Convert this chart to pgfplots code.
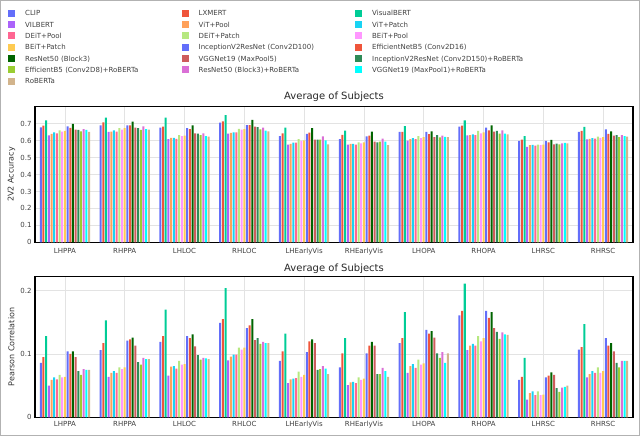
\documentclass[border=0pt]{standalone}
\usepackage{fontspec}
\setmainfont{DejaVu Sans}
\usepackage{pgfplots}
\usepackage{pgfplotstable}
\pgfplotsset{compat=1.18}

% 2V2 accuracy, one row per region, one column per model
\pgfplotstableread{
x m1 m2 m3 m4 m5 m6 m7 m8 m9 m10 m11 m12 m13 m14 m15 m16 m17 m18 m19
0 0.678 0.688 0.720 0.631 0.639 0.649 0.643 0.661 0.653 0.657 0.684 0.675 0.698 0.665 0.663 0.655 0.667 0.663 0.651
1 0.690 0.708 0.735 0.651 0.653 0.661 0.653 0.673 0.665 0.673 0.690 0.690 0.712 0.676 0.673 0.663 0.684 0.667 0.665
2 0.676 0.682 0.735 0.608 0.616 0.616 0.610 0.633 0.627 0.629 0.673 0.667 0.690 0.643 0.641 0.633 0.643 0.627 0.624
3 0.706 0.713 0.750 0.641 0.645 0.649 0.649 0.669 0.665 0.667 0.691 0.691 0.722 0.683 0.679 0.666 0.676 0.659 0.654
4 0.627 0.643 0.676 0.576 0.580 0.588 0.588 0.608 0.598 0.602 0.639 0.647 0.673 0.606 0.606 0.606 0.625 0.602 0.578
5 0.608 0.634 0.659 0.576 0.580 0.580 0.576 0.590 0.584 0.590 0.625 0.629 0.653 0.594 0.590 0.594 0.612 0.594 0.573
6 0.651 0.651 0.685 0.600 0.609 0.614 0.608 0.626 0.614 0.620 0.651 0.638 0.655 0.620 0.632 0.619 0.629 0.622 0.620
7 0.682 0.688 0.720 0.631 0.633 0.637 0.633 0.657 0.643 0.649 0.676 0.661 0.690 0.653 0.657 0.641 0.661 0.641 0.637
8 0.598 0.606 0.627 0.563 0.573 0.575 0.571 0.576 0.573 0.576 0.598 0.590 0.604 0.578 0.582 0.578 0.584 0.586 0.584
9 0.651 0.658 0.681 0.607 0.610 0.614 0.612 0.624 0.616 0.620 0.666 0.640 0.655 0.629 0.633 0.620 0.633 0.627 0.624
}\accuracy

% Pearson correlation
\pgfplotstableread{
x m1 m2 m3 m4 m5 m6 m7 m8 m9 m10 m11 m12 m13 m14 m15 m16 m17 m18 m19
0 0.086 0.095 0.128 0.050 0.059 0.063 0.060 0.067 0.063 0.064 0.104 0.100 0.104 0.095 0.073 0.067 0.076 0.075 0.075
1 0.106 0.117 0.153 0.064 0.070 0.073 0.070 0.079 0.076 0.079 0.121 0.123 0.126 0.113 0.087 0.083 0.094 0.092 0.092
2 0.119 0.128 0.170 0.066 0.080 0.081 0.077 0.089 0.083 0.084 0.128 0.125 0.131 0.112 0.098 0.091 0.094 0.093 0.092
3 0.149 0.155 0.204 0.090 0.096 0.099 0.099 0.110 0.107 0.110 0.141 0.145 0.155 0.122 0.125 0.116 0.119 0.117 0.117
4 0.089 0.104 0.132 0.054 0.060 0.061 0.062 0.072 0.064 0.067 0.103 0.120 0.123 0.117 0.075 0.076 0.081 0.077 0.068
5 0.079 0.101 0.125 0.051 0.055 0.056 0.054 0.063 0.059 0.061 0.101 0.113 0.119 0.113 0.068 0.068 0.078 0.073 0.064
6 0.117 0.125 0.166 0.070 0.081 0.084 0.078 0.091 0.083 0.085 0.138 0.132 0.136 0.126 0.101 0.094 0.103 0.086 0.101
7 0.161 0.168 0.211 0.106 0.113 0.116 0.113 0.128 0.120 0.125 0.168 0.157 0.166 0.141 0.135 0.124 0.134 0.131 0.130
8 0.059 0.064 0.094 0.028 0.038 0.041 0.035 0.041 0.035 0.036 0.063 0.066 0.071 0.067 0.046 0.040 0.047 0.048 0.050
9 0.107 0.111 0.147 0.063 0.068 0.073 0.070 0.079 0.070 0.073 0.125 0.113 0.117 0.104 0.086 0.079 0.089 0.089 0.089
}\pearson

\definecolor{c1}{HTML}{636EFA}
\definecolor{c2}{HTML}{EF553B}
\definecolor{c3}{HTML}{00CC96}
\definecolor{c4}{HTML}{AB63FA}
\definecolor{c5}{HTML}{FFA15A}
\definecolor{c6}{HTML}{19D3F3}
\definecolor{c7}{HTML}{FF6692}
\definecolor{c8}{HTML}{B6E880}
\definecolor{c9}{HTML}{FF97FF}
\definecolor{c10}{HTML}{FECB52}
\definecolor{c11}{HTML}{636EFA}
\definecolor{c12}{HTML}{EF553B}
\definecolor{c13}{HTML}{006400}
\definecolor{c14}{HTML}{CD5C5C}
\definecolor{c15}{HTML}{2E8B57}
\definecolor{c16}{HTML}{9ACD32}
\definecolor{c17}{HTML}{DA70D6}
\definecolor{c18}{HTML}{00FFFF}
\definecolor{c19}{HTML}{D2B48C}

\begin{document}
\begin{tikzpicture}
\useasboundingbox (0,0) rectangle (640pt,-436pt);
\draw[gray!60, line width=1pt] (0.5pt,-0.5pt) rectangle (639.5pt,-435.5pt);

\pgfplotsset{
  panel/.style={
    scale only axis, width=598pt,
    xmin=-0.5, xmax=9.5, ymin=0,
    ybar=0.68pt, bar width=2pt,
    legend image code/.code={\fill[##1] (0pt,-2.9pt) rectangle (7pt,4.1pt);},
    xtick={0,...,9},
    xticklabels={LHPPA,RHPPA,LHLOC,RHLOC,LHEarlyVis,RHEarlyVis,LHOPA,RHOPA,LHRSC,RHRSC},
    grid=major, major grid style={gray!22, line width=0.6pt},
    axis line style={black, line width=1.4pt},
    major tick length=0pt,
    tick label style={font=\fontsize{7}{8}\selectfont, text=black!75},
    xticklabel style={anchor=base},
    yticklabel style={/pgf/number format/fixed, /pgf/number format/precision=1},
    /pgf/number format/assume math mode=true,
    ylabel style={font=\fontsize{8}{9}\selectfont, text=black!80,
      at={(axis description cs:-0.0393,0.5)}, anchor=center},
    title style={at={(0.5,1)}, anchor=base, font=\fontsize{10}{12}\selectfont, text=black!85},
    title={Average of Subjects},
  }
}

\begin{axis}[panel,
  at={(35pt,-242.3pt)}, anchor=south west, height=135.6pt,
  ymax=0.8, ytick={0,0.1,0.2,0.3,0.4,0.5,0.6,0.7},
  xticklabel style={yshift=-11pt},
  title style={yshift=1.2pt},
  ylabel={2V2 Accuracy},
  legend columns=3,
  legend cell align=left,
  legend style={at={(axis description cs:-0.04515,1.7264)}, anchor=north west,
    draw=none, fill=none, inner sep=0pt, row sep=0.3pt,
    font=\fontsize{7}{8}\selectfont, text=black!75,
    /tikz/every odd column/.append style={column sep=8pt},
    /tikz/every even column/.append style={text width=154.5pt, inner xsep=0pt,
      inner ysep=0pt, text height=5.5pt, text depth=1.5pt}},
]
\pgfplotsinvokeforeach{1,...,19}{
  \addplot[fill=c#1, draw=none] table[x=x, y=m#1] {\accuracy};
}
\legend{CLIP, LXMERT, VisualBERT, VILBERT, ViT+Pool, ViT+Patch, DEiT+Pool, DEiT+Patch,
  BEiT+Pool, BEiT+Patch, InceptionV2ResNet (Conv2D100), EfficientNetB5 (Conv2D16),
  ResNet50 (Block3), VGGNet19 (MaxPool5), InceptionV2ResNet (Conv2D150)+RoBERTa,
  EfficientB5 (Conv2D8)+RoBERTa, ResNet50 (Block3)+RoBERTa,
  VGGNet19 (MaxPool1)+RoBERTa, RoBERTa}
\end{axis}

\begin{axis}[panel,
  at={(35pt,-417.3pt)}, anchor=south west, height=140.6pt,
  ymax=0.222, ytick={0,0.1,0.2},
  xticklabel style={yshift=-9.4pt},
  title style={yshift=-1.1pt},
  ylabel={Pearson Correlation},
]
\pgfplotsinvokeforeach{1,...,19}{
  \addplot[fill=c#1, draw=none] table[x=x, y=m#1] {\pearson};
}
\end{axis}
\end{tikzpicture}
\end{document}
